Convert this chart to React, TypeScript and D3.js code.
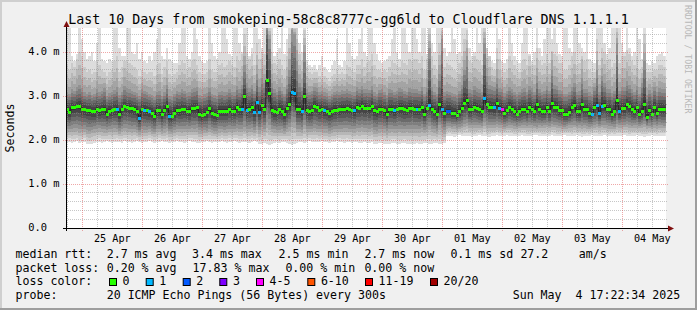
import React from "react";
import * as d3 from "d3";

// ---------------- data (1 column = 1 hour, 240 columns) ----------------
const medianRtt = [
  2.69,2.62,2.73,2.73,2.76,2.76,2.69,2.69,2.67,2.66,2.64,2.64,2.70,2.66,2.69,2.69,2.59,2.65,2.66,2.69,
  2.69,2.59,2.69,2.76,2.74,2.72,2.71,2.70,2.65,2.50,2.69,2.67,2.66,2.64,2.61,2.54,2.67,2.66,2.57,2.67,
  2.77,2.54,2.53,2.61,2.68,2.66,2.69,2.69,2.65,2.65,2.71,2.71,2.73,2.59,2.56,2.59,2.62,2.71,2.61,2.58,
  2.56,2.65,2.65,2.65,2.65,2.70,2.65,2.65,2.74,2.69,2.70,2.99,2.67,2.70,2.73,2.62,2.86,2.63,2.79,2.69,
  3.36,3.05,2.68,2.64,2.62,2.69,2.65,2.58,2.72,2.80,3.08,3.05,2.69,2.70,2.65,2.98,2.66,2.65,2.66,2.76,
  2.74,2.68,2.70,2.66,2.65,2.60,2.64,2.68,2.68,2.69,2.70,2.70,2.71,2.70,2.68,2.66,2.74,2.72,2.76,2.72,
  2.72,2.71,2.76,2.66,2.64,2.70,2.70,2.66,2.58,2.70,2.70,2.66,2.69,2.72,2.72,2.69,2.68,2.72,2.72,2.70,
  2.70,2.69,2.73,2.59,2.72,2.79,2.70,2.65,2.59,2.80,2.69,2.61,2.65,2.65,2.61,2.60,2.56,2.65,2.72,2.83,
  2.89,2.69,2.69,2.74,2.72,2.70,2.65,2.94,2.80,2.75,2.74,2.73,2.82,2.71,2.69,2.61,2.66,2.73,2.70,2.65,
  2.59,2.65,2.69,2.70,2.65,2.74,2.70,2.65,2.80,2.70,2.65,2.65,2.74,2.65,2.82,2.74,2.74,2.67,2.67,2.59,
  2.59,2.63,2.73,2.79,2.64,2.64,2.80,2.69,2.69,2.61,2.59,2.73,2.79,2.61,2.76,2.79,2.69,2.69,2.59,2.65,
  2.89,2.65,2.72,2.72,2.80,2.76,2.70,2.65,2.73,2.59,2.65,2.80,2.52,2.67,2.59,2.73,2.61,2.70,2.70,2.70,
];

const ping1 = [
  1.95,1.96,1.94,1.95,1.97,1.93,1.95,1.96,1.92,1.90,1.91,1.93,1.95,1.96,1.94,1.95,1.97,1.96,1.94,1.95,
  1.96,1.95,1.94,1.97,1.96,1.95,1.93,1.96,1.97,1.95,1.94,1.96,1.95,1.97,1.96,1.94,1.95,1.96,1.97,1.95,
  1.96,1.94,1.95,1.96,1.97,1.95,1.96,1.94,1.95,1.97,1.96,1.95,1.94,1.93,1.95,1.96,1.97,1.95,1.94,1.96,
  1.95,1.96,1.97,1.95,1.94,1.96,1.95,1.97,1.96,1.94,1.95,1.96,1.95,1.94,1.96,1.97,1.95,1.92,1.91,1.93,
  1.90,1.89,1.92,1.94,1.95,1.93,1.95,1.96,1.94,1.90,1.89,1.91,1.93,1.95,1.96,1.94,1.95,1.97,1.96,1.95,
  1.96,1.95,1.97,1.96,1.95,1.94,1.96,1.95,1.97,1.96,1.95,1.94,1.96,1.95,1.94,1.96,1.95,1.93,1.94,1.95,
  1.94,1.93,1.95,1.92,1.91,1.93,1.94,1.92,1.90,1.91,1.93,1.94,1.92,1.91,1.93,1.94,1.92,1.91,1.90,1.92,
  1.93,1.91,1.92,1.94,1.93,1.91,1.92,1.94,1.93,1.92,1.91,1.93,2.08,2.10,2.09,2.07,2.10,2.11,2.09,2.08,
  2.10,2.09,2.07,2.08,2.10,2.11,2.09,2.10,2.08,2.07,2.09,2.10,2.11,2.09,2.08,2.10,2.12,2.10,2.09,2.08,
  2.09,2.10,2.11,2.10,2.09,2.08,2.10,2.11,2.12,2.10,2.09,2.08,2.10,2.09,2.11,2.10,2.08,2.09,2.10,2.11,
  2.10,2.09,2.08,2.10,2.11,2.09,2.07,2.08,2.10,2.09,2.11,2.10,2.08,2.09,2.10,2.11,2.09,2.08,2.10,2.09,
  2.08,2.09,2.10,2.11,2.09,2.08,2.10,2.09,2.11,2.10,2.08,2.07,2.09,2.10,2.11,2.09,2.08,2.10,2.09,2.10,
];

const ping5 = [
  2.24,2.26,2.25,2.27,2.28,2.24,2.25,2.26,2.22,2.21,2.23,2.24,2.26,2.27,2.25,2.24,2.22,2.25,2.26,2.27,
  2.26,2.21,2.25,2.28,2.27,2.26,2.24,2.25,2.23,2.18,2.24,2.23,2.22,2.24,2.21,2.19,2.25,2.26,2.20,2.24,
  2.28,2.20,2.19,2.23,2.26,2.25,2.24,2.25,2.26,2.24,2.27,2.26,2.27,2.22,2.20,2.22,2.21,2.26,2.23,2.21,
  2.20,2.24,2.24,2.23,2.24,2.26,2.24,2.25,2.28,2.26,2.25,2.30,2.24,2.26,2.27,2.22,2.32,2.22,2.30,2.26,
  2.40,2.34,2.26,2.24,2.22,2.23,2.24,2.21,2.25,2.30,2.42,2.40,2.26,2.25,2.23,2.34,2.25,2.24,2.25,2.28,
  2.26,2.25,2.26,2.24,2.24,2.21,2.23,2.25,2.25,2.26,2.26,2.27,2.27,2.26,2.25,2.24,2.28,2.27,2.29,2.27,
  2.27,2.26,2.28,2.22,2.21,2.25,2.26,2.25,2.20,2.25,2.26,2.24,2.25,2.26,2.25,2.24,2.26,2.25,2.26,2.25,
  2.25,2.24,2.27,2.22,2.26,2.32,2.26,2.24,2.20,2.33,2.28,2.22,2.32,2.32,2.30,2.31,2.28,2.30,2.32,2.36,
  2.38,2.34,2.33,2.35,2.33,2.33,2.32,2.40,2.35,2.34,2.34,2.33,2.36,2.34,2.33,2.30,2.32,2.34,2.33,2.32,
  2.30,2.32,2.33,2.34,2.32,2.35,2.33,2.32,2.30,2.33,2.32,2.33,2.35,2.32,2.36,2.35,2.33,2.32,2.31,2.30,
  2.31,2.33,2.34,2.35,2.32,2.33,2.32,2.33,2.31,2.30,2.32,2.34,2.36,2.32,2.35,2.34,2.33,2.32,2.31,2.30,
  2.37,2.33,2.34,2.35,2.36,2.34,2.32,2.33,2.34,2.32,2.33,2.36,2.31,2.32,2.30,2.33,2.32,2.34,2.33,2.32,
];

const ping13 = [
  2.86,2.84,2.90,2.89,2.93,2.95,2.92,2.86,2.85,2.84,2.82,2.83,2.88,2.85,2.87,2.90,2.80,2.84,2.86,2.88,
  2.90,2.80,2.86,2.94,2.92,2.90,2.88,2.87,2.84,2.78,2.88,2.87,2.86,2.83,2.80,2.76,2.86,2.85,2.78,2.86,
  2.95,2.78,2.76,2.82,2.87,2.86,2.88,2.87,2.84,2.85,2.90,2.91,2.92,2.80,2.78,2.80,2.82,2.90,2.82,2.79,
  2.78,2.85,2.86,2.84,2.86,2.90,2.86,2.85,2.94,2.90,2.95,3.25,2.95,2.92,2.96,2.88,3.10,2.90,3.02,2.95,
  4.30,3.60,2.95,2.88,2.86,2.92,2.88,2.82,2.95,3.10,3.70,3.60,3.10,2.98,2.92,3.30,2.90,2.86,2.87,2.95,
  2.92,2.86,2.88,2.86,2.84,2.80,2.83,2.87,2.88,2.87,2.89,2.88,2.90,2.88,2.87,2.86,2.93,2.91,2.95,2.90,
  2.91,2.90,2.95,2.86,2.84,2.90,2.90,2.86,2.80,2.90,2.90,2.87,2.88,2.92,2.92,2.88,2.87,2.92,2.91,2.90,
  2.90,2.89,2.93,2.82,2.92,3.35,2.92,2.86,2.82,3.05,3.45,2.84,2.88,2.87,2.84,2.82,2.80,2.87,2.95,3.20,
  3.15,2.90,2.89,2.94,2.92,2.90,2.86,3.45,3.05,2.96,2.95,2.94,3.05,2.93,2.92,2.84,2.87,2.94,2.91,2.86,
  2.82,2.86,2.90,2.91,2.86,2.95,2.92,2.86,3.02,2.91,2.86,2.87,2.95,2.87,3.15,2.96,2.95,2.88,2.88,2.82,
  2.82,2.85,2.94,3.00,2.86,2.86,3.02,2.90,2.90,2.84,2.82,2.95,3.05,2.86,3.10,3.00,2.90,2.90,2.82,2.87,
  3.40,2.88,2.93,2.93,3.00,2.97,2.91,2.86,2.94,2.82,2.95,3.20,2.78,2.89,2.82,2.94,2.84,2.92,2.91,2.90,
];

const ping16 = [
  3.10,3.05,3.15,3.12,3.20,3.25,3.18,3.08,3.05,3.10,3.02,3.04,3.15,3.08,3.12,3.18,3.00,3.06,3.10,3.14,
  3.20,3.02,3.10,3.22,3.18,3.15,3.12,3.10,3.06,3.00,3.15,3.12,3.10,3.05,3.02,2.98,3.10,3.12,3.00,3.08,
  3.25,3.00,2.98,3.05,3.12,3.10,3.15,3.12,3.06,3.08,3.16,3.18,3.20,3.02,3.00,3.04,3.06,3.18,3.05,3.02,
  3.00,3.10,3.12,3.08,3.10,3.15,3.10,3.08,3.22,3.15,3.25,3.70,3.30,3.18,3.25,3.12,3.50,3.20,3.40,3.30,
  4.60,4.30,3.30,3.15,3.10,3.20,3.12,3.05,3.25,3.60,4.50,4.40,3.80,3.30,3.20,4.00,3.15,3.10,3.12,3.20,
  3.18,3.10,3.12,3.08,3.06,3.00,3.05,3.10,3.12,3.10,3.14,3.12,3.16,3.12,3.10,3.08,3.20,3.16,3.22,3.15,
  3.15,3.14,3.22,3.08,3.05,3.14,3.15,3.10,3.02,3.15,3.14,3.10,3.12,3.18,3.16,3.12,3.10,3.18,3.16,3.15,
  3.15,3.12,3.20,3.05,3.18,4.10,3.20,3.10,3.05,3.50,4.30,3.08,3.12,3.10,3.06,3.05,3.02,3.12,3.25,3.60,
  3.90,3.15,3.14,3.22,3.18,3.15,3.10,4.20,3.45,3.25,3.22,3.20,3.40,3.18,3.16,3.06,3.12,3.20,3.16,3.10,
  3.05,3.10,3.15,3.18,3.10,3.22,3.18,3.10,3.45,3.16,3.10,3.12,3.22,3.12,3.60,3.25,3.22,3.14,3.12,3.05,
  3.05,3.10,3.20,3.30,3.10,3.12,3.40,3.15,3.16,3.08,3.05,3.20,3.60,3.10,3.45,3.30,3.15,3.16,3.06,3.12,
  4.20,3.12,3.20,3.20,3.35,3.25,3.16,3.10,3.22,3.05,3.30,3.80,3.02,3.14,3.06,3.20,3.08,3.18,3.15,3.15,
];

const ping19 = [
  3.70,3.60,3.75,3.65,3.85,4.00,3.90,3.65,3.55,3.60,3.50,3.55,3.80,3.70,3.60,3.55,3.45,3.55,3.60,3.80,
  3.90,3.55,3.65,3.90,3.80,3.75,3.70,3.65,3.60,3.45,3.60,3.55,3.50,3.55,3.55,3.45,3.70,3.75,3.50,3.65,
  3.80,3.50,3.45,3.50,3.55,3.70,3.80,3.75,3.60,3.65,3.80,3.85,3.70,3.55,3.50,3.50,3.55,3.85,3.60,3.55,
  3.55,3.70,3.75,3.65,3.70,3.80,3.70,3.65,3.90,3.80,3.95,4.40,4.00,3.85,3.95,3.70,4.20,3.85,4.10,3.95,
  4.60,4.60,4.00,3.75,3.70,3.85,3.70,3.60,3.90,4.40,4.60,4.60,4.60,3.95,3.80,4.50,3.65,3.55,3.50,3.55,
  3.55,3.45,3.55,3.45,3.40,3.35,3.45,3.50,3.60,3.50,3.55,3.50,3.70,3.65,3.60,3.55,3.70,3.70,3.85,3.65,
  3.75,3.80,3.95,3.70,3.60,3.60,3.55,3.60,3.55,3.65,3.80,3.75,3.70,3.65,3.80,3.75,3.70,3.85,3.80,3.85,
  3.85,3.75,3.90,3.60,3.85,4.60,3.90,3.70,3.60,4.20,4.60,3.65,3.75,3.70,3.65,3.60,3.55,3.75,3.90,4.30,
  4.50,3.80,3.75,3.90,3.85,3.80,3.70,4.60,4.10,3.90,3.65,3.60,4.10,3.85,3.60,3.55,3.60,3.90,3.80,3.70,
  3.60,3.55,3.80,3.85,3.70,3.95,3.70,3.70,4.10,3.80,3.70,3.75,3.95,3.75,4.30,3.95,3.90,3.75,3.75,3.60,
  3.60,3.70,3.90,4.00,3.70,3.75,4.10,3.80,3.85,3.60,3.55,3.55,4.30,3.70,4.10,4.00,3.80,3.85,3.65,3.75,
  4.60,3.75,3.90,3.90,4.05,3.95,3.80,3.70,3.90,3.60,3.65,4.40,3.55,3.55,3.55,3.60,3.60,3.70,3.70,3.65,
];

const ping20 = [
  4.60,4.60,3.90,3.80,3.95,4.60,4.30,4.00,3.85,3.90,4.00,3.80,4.20,4.60,3.85,3.80,3.75,3.85,3.80,4.60,
  4.60,4.10,3.90,3.80,4.60,4.60,4.00,3.95,4.20,3.85,4.00,3.80,3.75,3.90,3.80,4.00,4.30,4.60,3.90,3.85,
  4.10,3.85,3.80,3.75,3.75,4.20,4.60,4.60,3.90,3.85,4.00,4.60,4.30,3.90,3.80,3.75,3.80,4.60,4.20,3.90,
  3.85,4.00,4.60,4.60,4.30,3.95,3.90,4.60,4.60,4.20,4.00,4.60,4.60,3.90,4.10,4.60,4.60,4.30,4.00,4.60,
  4.60,4.60,4.60,3.90,4.00,4.10,4.60,3.95,4.30,4.60,4.60,4.60,4.60,4.20,4.00,4.60,3.80,3.70,3.65,3.70,
  3.60,3.70,3.90,3.65,3.60,3.55,3.70,3.80,4.30,3.70,3.65,3.80,4.60,4.20,3.90,3.85,3.90,4.30,4.60,4.00,
  3.90,4.60,4.60,4.20,3.95,3.80,3.75,3.80,3.85,3.90,4.30,4.60,4.00,3.85,4.60,4.60,4.20,4.00,4.60,4.60,
  4.30,4.00,4.60,4.60,3.95,4.60,4.20,4.00,4.60,4.60,4.60,4.10,3.90,4.00,4.60,4.30,3.95,4.00,4.60,4.60,
  4.60,4.10,3.90,4.00,4.60,4.20,4.60,4.60,4.10,3.90,3.80,3.75,4.60,4.30,3.80,3.75,3.85,4.60,4.20,3.90,
  3.80,3.75,4.20,4.60,4.60,3.90,3.80,4.00,4.60,4.10,3.90,4.30,4.60,4.60,4.00,4.60,4.20,3.95,3.90,4.60,
  4.60,4.10,4.00,4.60,4.60,4.20,3.90,4.00,4.60,3.85,3.80,3.75,4.60,4.60,4.60,4.20,3.95,4.10,4.60,4.60,
  4.60,4.60,4.20,4.00,4.60,4.10,3.90,4.00,4.60,4.30,3.85,4.60,3.75,3.70,3.80,3.75,3.90,3.95,4.00,3.90,
];

// columns with packet loss: column index and loss-colour level
const lossColumns = [20, 29, 31, 33, 41, 70, 72, 75, 76, 77, 90, 91, 94, 103, 115, 131, 140, 145, 150, 152, 153, 167, 171, 173, 174, 210, 212, 213, 214, 221];
const lossLevels  = [ 1,  1,  1,  1,  1,  1,  1,  1,  1,  1,  1,  1,  1,   1,   1,   1,   1,   1,   1,   2,   2,   1,   1,   1,   4,   1,   1,   1,   1,   1];

const lossLabels = ["0", "1", "2", "3", "4-5", "6-10", "11-19", "20/20"];
const lossColors = ["#26ff00", "#00b8ff", "#0059ff", "#7e00ff", "#ff00ff", "#ff5500", "#ff0000", "#a10000"];

const dayLabels = ["25 Apr", "26 Apr", "27 Apr", "28 Apr", "29 Apr", "30 Apr", "01 May", "02 May", "03 May", "04 May"];
const yTickValues = [0, 1, 2, 3, 4];
const yTickLabels = ["0.0", "1.0 m", "2.0 m", "3.0 m", "4.0 m"];

const titleText = "Last 10 Days from smokeping-58c8c8777c-gg6ld to Cloudflare DNS 1.1.1.1";
const statRows = [
  ["median rtt:", "2.7 ms avg", "3.4 ms max", "2.5 ms min", "2.7 ms now", "0.1 ms sd", "27.2", "am/s"],
  ["packet loss:", "0.20 % avg", "17.83 % max", "0.00 % min", "0.00 % now"],
];
const probeText = "20 ICMP Echo Pings (56 Bytes) every 300s";
const dateText = "Sun May  4 17:22:34 2025";

// ---------------- layout ----------------
const W = 697, H = 310;
const PL = 65.8, PR = 665.8, PT = 28, PB = 228;
const FONT = "'DejaVu Sans Mono', monospace";
const N = medianRtt.length;
const tStart = Date.UTC(2025, 3, 24, 17, 22, 34);
const tEnd = tStart + 10 * 86400000;
const HOUR = 3600000;

const x = d3.scaleUtc().domain([new Date(tStart), new Date(tEnd)]).range([PL, PR]);
const y = d3.scaleLinear().domain([0, 200 / 44]).range([PB, PT]);
const colX = (i: number) => x(new Date(tStart + i * HOUR));

// 20 sorted ping ranks per column, built from the read quantiles
function columnPings(i: number): number[] {
  const m = medianRtt[i], a = ping1[i], b = ping5[i], c = ping13[i], d = ping16[i], e = ping19[i], f = ping20[i];
  const p = [
    a, a + (b - a) * 0.25, a + (b - a) * 0.5, a + (b - a) * 0.75, b,
    b + (m - b) * 0.18, b + (m - b) * 0.36, b + (m - b) * 0.55, b + (m - b) * 0.73, b + (m - b) * 0.91,
    m + (c - m) * 0.25, m + (c - m) * 0.62, c, c + (d - c) / 3, c + (d - c) * 2 / 3,
    d, d + (e - d) * 0.3, d + (e - d) * 0.62, e, f,
  ];
  return p.sort((u, v) => u - v);
}

export default function App() {
  const pings = d3.range(N).map(columnPings);
  const idx = d3.range(N + 1);
  const bands = d3.range(10).map((k) => {
    const g = 19 * (10 - (k + 1)) + 50;
    const area = d3
      .area<number>()
      .curve(d3.curveStepAfter)
      .x((i) => colX(i))
      .y0((i) => y(pings[Math.min(i, N - 1)][k]))
      .y1((i) => y(pings[Math.min(i, N - 1)][19 - k]));
    return { d: area(idx) as string, color: `rgb(${g},${g},${g})` };
  });

  const medLine = d3
    .line<number>()
    .curve(d3.curveStepAfter)
    .x((i) => colX(i))
    .y((i) => y(medianRtt[Math.min(i, N - 1)]))(idx) as string;

  const lossOf = (i: number) => {
    const j = lossColumns.indexOf(i);
    return j >= 0 ? lossLevels[j] : 0;
  };

  const days = d3.utcDay.range(new Date(tStart), new Date(tEnd));
  const sixHours = d3.utcHour
    .every(6)!
    .range(new Date(tStart), new Date(tEnd))
    .filter((t) => t.getUTCHours() !== 0);
  const minorY = d3.range(1, 23).map((k) => k * 0.2).filter((v) => Math.abs(v - Math.round(v)) > 0.01);
  const snap = (v: number) => Math.floor(v) + 0.5;

  const gridMinor = "rgba(144,144,144,0.5)";
  const gridMajor = "rgba(224,80,80,0.5)";

  const legendBoxX = [109, 145.7, 182.7, 219.3, 256, 307.3, 365, 430];
  const row1X = [15.5, 106.7, 192, 278.6, 364.4, 450.4, 520.4, 578.7];
  const row2X = [15.5, 106.7, 192.6, 285.4, 364.4];
  const rowY = [258.4, 271.8, 285.2, 298.6];

  return (
    <svg
      width={W}
      height={H}
      style={{ position: "fixed", left: 0, top: 0, display: "block" }}
      fontFamily={FONT}
    >
      <defs>
        <clipPath id="plotclip">
          <rect x={PL} y={PT} width={PR - PL} height={PB - PT} />
        </clipPath>
      </defs>
      {/* background and 3D frame */}
      <rect x={0} y={0} width={W} height={H} fill="#f0f0f0" />
      <rect x={0} y={0} width={W} height={2} fill="#cfcfcf" />
      <rect x={0} y={0} width={2} height={H} fill="#cfcfcf" />
      <rect x={0} y={H - 2} width={W} height={2} fill="#9e9e9e" />
      <rect x={W - 2} y={0} width={2} height={H} fill="#9e9e9e" />

      {/* canvas */}
      <rect x={66} y={PT} width={600} height={PB - PT} fill="#ffffff" />

      {/* smoke */}
      <g clipPath="url(#plotclip)" shapeRendering="crispEdges">
        {bands.map((b, k) => (
          <path key={k} d={b.d} fill={b.color} />
        ))}
      </g>

      {/* median */}
      <g clipPath="url(#plotclip)">
        <path d={medLine} fill="none" stroke="#202020" strokeWidth={1} />
        {medianRtt.map((v, i) => (
          <rect
            key={i}
            x={colX(i)}
            y={y(v) - 1.5}
            width={colX(i + 1) - colX(i) + 0.3}
            height={3}
            fill={lossColors[lossOf(i)]}
            shapeRendering="crispEdges"
          />
        ))}
      </g>

      {/* grid */}
      <g strokeDasharray="1,1" strokeWidth={1} fill="none">
        {sixHours.map((t, i) => (
          <line key={"vm" + i} x1={snap(x(t))} x2={snap(x(t))} y1={PT} y2={PB} stroke={gridMinor} />
        ))}
        {minorY.map((v, i) => (
          <line key={"hm" + i} x1={66} x2={668} y1={snap(y(v))} y2={snap(y(v))} stroke={gridMinor} />
        ))}
        {days.map((t, i) => (
          <line key={"vM" + i} x1={snap(x(t))} x2={snap(x(t))} y1={PT} y2={PB + 3} stroke={gridMajor} />
        ))}
        {yTickValues.slice(1).map((v, i) => (
          <line key={"hM" + i} x1={63} x2={668} y1={snap(y(v))} y2={snap(y(v))} stroke={gridMajor} />
        ))}
      </g>

      {/* axes */}
      <line x1={63} x2={670} y1={228.5} y2={228.5} stroke="#000" strokeWidth={1} />
      <line x1={66.5} x2={66.5} y1={231} y2={24} stroke="#000" strokeWidth={1} />
      <path d="M668,225.5 L674,228.5 L668,231.5 Z" fill="#801010" />
      <path d="M63.5,27 L66.5,21 L69.5,27 Z" fill="#801010" />

      {/* y tick labels */}
      {yTickValues.map((v, i) => (
        <text key={"yl" + i} x={28.3} y={y(v) + 3.3} fontSize={10.4} fill="#000" xmlSpace="preserve">
          {yTickLabels[i]}
        </text>
      ))}

      {/* x tick labels at midday */}
      {days.map((t, i) => (
        <text
          key={"xl" + i}
          x={x(new Date(t.getTime() + 12 * HOUR))}
          y={241.7}
          fontSize={10.2}
          textAnchor="middle"
          fill="#000"
        >
          {dayLabels[i]}
        </text>
      ))}

      {/* title */}
      <text x={348.5} y={24} fontSize={13.3} textAnchor="middle" fill="#000">
        {titleText}
      </text>

      {/* y-axis label */}
      <text transform="translate(14,128) rotate(-90)" fontSize={11.6} textAnchor="middle" fill="#000">
        Seconds
      </text>

      {/* watermark */}
      <text transform="translate(685,5) rotate(90)" fontSize={8.2} fill="#b8b8b8" xmlSpace="preserve">
        RRDTOOL / TOBI OETIKER
      </text>

      {/* legend */}
      <g fontSize={11.6} fill="#000">
        {statRows[0].map((s, i) => (
          <text key={"r1" + i} x={row1X[i]} y={rowY[0]} xmlSpace="preserve">{s}</text>
        ))}
        {statRows[1].map((s, i) => (
          <text key={"r2" + i} x={row2X[i]} y={rowY[1]} xmlSpace="preserve">{s}</text>
        ))}
        <text x={15.5} y={rowY[2]}>loss color:</text>
        {lossLabels.map((l, i) => (
          <g key={"lc" + i}>
            <rect x={legendBoxX[i] + 0.5} y={278.5} width={7} height={7} fill={lossColors[i]} stroke="#000" strokeWidth={1} />
            <text x={legendBoxX[i] + 13.6} y={rowY[2]}>{l}</text>
          </g>
        ))}
        <text x={15.5} y={rowY[3]}>probe:</text>
        <text x={106.7} y={rowY[3]} xmlSpace="preserve">{probeText}</text>
        <text x={512.7} y={rowY[3]} xmlSpace="preserve">{dateText}</text>
      </g>
    </svg>
  );
}
